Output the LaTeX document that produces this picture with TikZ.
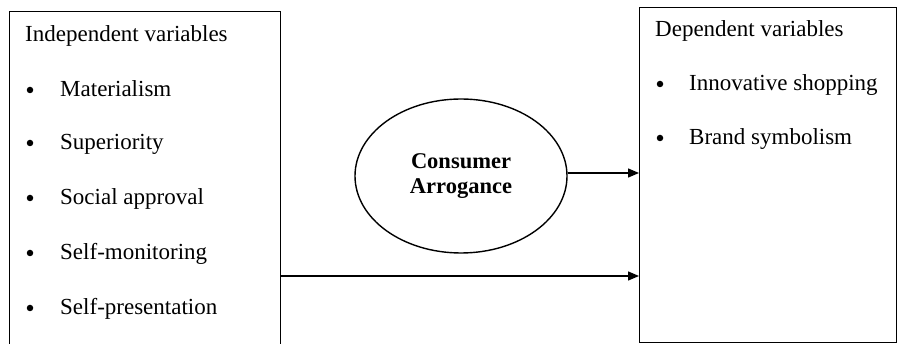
\documentclass[tikz,border=0pt]{standalone}
\usepackage{fontspec}
\setmainfont{Liberation Serif}
\usetikzlibrary{shapes.geometric,arrows.meta}
\begin{document}
\begin{tikzpicture}[x=1pt,y=-1pt,
  box/.style={draw=black,line width=1.4pt,inner sep=0pt},
  txt/.style={anchor=base west,inner sep=0pt,font=\fontsize{23}{27}\selectfont},
  bul/.style={circle,fill=black,inner sep=0pt,minimum size=6.5pt},
  conn/.style={line width=1.4pt,-{Triangle[length=11pt,width=9pt]}}]
\clip (0,0) rectangle (898,344);
\node[box,minimum width=271pt,minimum height=360pt,anchor=north west] (indep) at (9,11) {};
\node[box,minimum width=257pt,minimum height=335pt,anchor=north west] (dep) at (639,7) {};
\node[txt] (ti) at (25,42) {Independent variables};
\foreach \n/\y/\t in {m/97/Materialism,s/150/Superiority,a/205/Social approval,mo/260/Self-monitoring,p/315/Self-presentation}{
  \node[bul] (b\n) at (30,{\y-7}) {};
  \node[txt] (i\n) at (60,\y) {\t};
}
\node[txt] (td) at (655,37) {Dependent variables};
\node[bul] (bd1) at (660,84) {};
\node[txt] (d1) at (689,91) {Innovative shopping};
\node[bul] (bd2) at (660,138) {};
\node[txt] (d2) at (689,145) {Brand symbolism};
\node[draw=black,line width=1.4pt,ellipse,minimum width=212pt,minimum height=154pt,inner sep=0pt,
  align=center,font=\fontsize{22.5}{25.5}\selectfont\bfseries] (cons) at (461,176) {Consumer\\Arrogance};
\coordinate (low) at (0,276);
\coordinate (up) at (0,173);
\draw[conn] (cons.east |- up) -- (dep.west |- up);
\draw[conn] (indep.east |- low) -- (dep.west |- low);
\end{tikzpicture}
\end{document}
